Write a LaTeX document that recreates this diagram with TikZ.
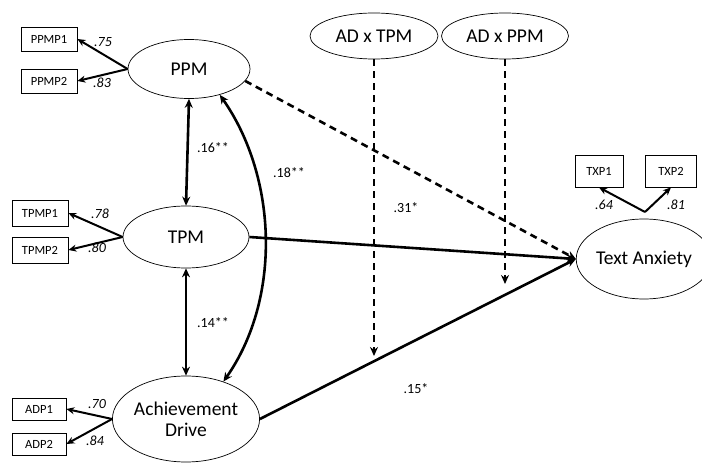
\documentclass[tikz,border=0pt]{standalone}
\usepackage{fontspec}
\setmainfont{Carlito}
\usetikzlibrary{shapes.geometric,arrows.meta}

\begin{document}
\begin{tikzpicture}[x=1pt,y=-1pt,auto,
    latent/.style ={ellipse, draw, line width=0.7pt, inner sep=0pt, font=\fontsize{19.5}{21}\selectfont, align=center},
    indicator/.style ={rectangle, draw, line width=0.8pt, inner sep=0pt, font=\fontsize{12.5}{14}\selectfont},
    path/.style ={line width=2.6pt, -{Stealth[length=9pt,width=8pt]}},
    loading/.style ={line width=2pt, -{Stealth[length=8pt,width=7pt]}},
    twoway/.style ={line width=2.6pt, {Stealth[length=9pt,width=8pt]}-{Stealth[length=9pt,width=8pt]}},
    moderate/.style ={line width=2.6pt, dash pattern=on 7pt off 5pt, -{Stealth[length=9pt,width=8pt]}},
    weight/.style ={font=\fontsize{14}{16}\selectfont\itshape},
    coef/.style ={font=\fontsize{14}{16}\selectfont}]
   \useasboundingbox (0,0) rectangle (702,465);
   % latent variables
   \node[latent, minimum width=122, minimum height=59] (PPM) at (189,69) {PPM};
   \node[latent, minimum width=126, minimum height=62] (TPM) at (186,237) {TPM};
   \node[latent, minimum width=139, minimum height=86] (AD) at (186,419) {Achievement\\Drive};
   \node[latent, minimum width=128, minimum height=46] (ADxTPM) at (374,36) {AD x TPM};
   \node[latent, minimum width=127, minimum height=46] (ADxPPM) at (505,36) {AD x PPM};
   \node[latent, minimum width=118, minimum height=80] (TA) at (644,259) {Text Anxiety};
   % indicators
   \node[indicator, minimum width=56, minimum height=24] (PPMP1) at (49,39) {PPMP1};
   \node[indicator, minimum width=56, minimum height=24] (PPMP2) at (49,81) {PPMP2};
   \node[indicator, minimum width=56, minimum height=26] (TPMP1) at (40,213) {TPMP1};
   \node[indicator, minimum width=56, minimum height=26] (TPMP2) at (40,250) {TPMP2};
   \node[indicator, minimum width=54, minimum height=22] (ADP1) at (39,409) {ADP1};
   \node[indicator, minimum width=54, minimum height=22] (ADP2) at (39,444) {ADP2};
   \node[indicator, minimum width=48, minimum height=32] (TXP1) at (599,171) {TXP1};
   \node[indicator, minimum width=51, minimum height=32] (TXP2) at (671,171) {TXP2};
   % loadings
   \draw[loading] (PPM.west) to (PPMP1.east);
   \draw[loading] (PPM.west) to (PPMP2.east);
   \draw[loading] (TPM.west) to (TPMP1.east);
   \draw[loading] (TPM.west) to (TPMP2.east);
   \draw[loading] (AD.west) to (ADP1.east);
   \draw[loading] (AD.west) to (ADP2.east);
   \coordinate (TAtop) at (645,212);
   \draw[loading] (TAtop) to (TXP1.south);
   \draw[loading] (TAtop) to (TXP2.south);
   \node[weight] (w1) at (103,42) {.75};
   \node[weight] (w2) at (102,83) {.83};
   \node[weight] (w3) at (100,214) {.78};
   \node[weight] (w4) at (97,248) {.80};
   \node[weight] (w5) at (97,404) {.70};
   \node[weight] (w6) at (95,441) {.84};
   \node[weight] (w7) at (604,205) {.64};
   \node[weight] (w8) at (676,205) {.81};
   % correlations
   \draw[twoway] (PPM.south) to (TPM.north);
   \draw[twoway] (TPM.south) to (AD.north);
   \draw[twoway] (PPM.-40) to[out=-55, in=55, looseness=0.9] (AD.45);
   \node[coef] (c1) at (213,148) {.16**};
   \node[coef] (c2) at (213,323) {.14**};
   \node[coef] (c3) at (289,173) {.18**};
   % paths to text anxiety
   \draw[moderate] (PPM.-12) to (TA.west);
   \draw[path] (TPM.east) to (TA.west);
   \draw[path] (AD.east) to (TA.west);
   \coordinate (m1) at (374,356);
   \coordinate (m2) at (505,284);
   \draw[moderate] (ADxTPM.south) to (m1);
   \draw[moderate] (ADxPPM.south) to (m2);
   \node[coef] (c4) at (406,208) {.31*};
   \node[coef] (c5) at (416,389) {.15*};
 \end{tikzpicture}
\end{document}
